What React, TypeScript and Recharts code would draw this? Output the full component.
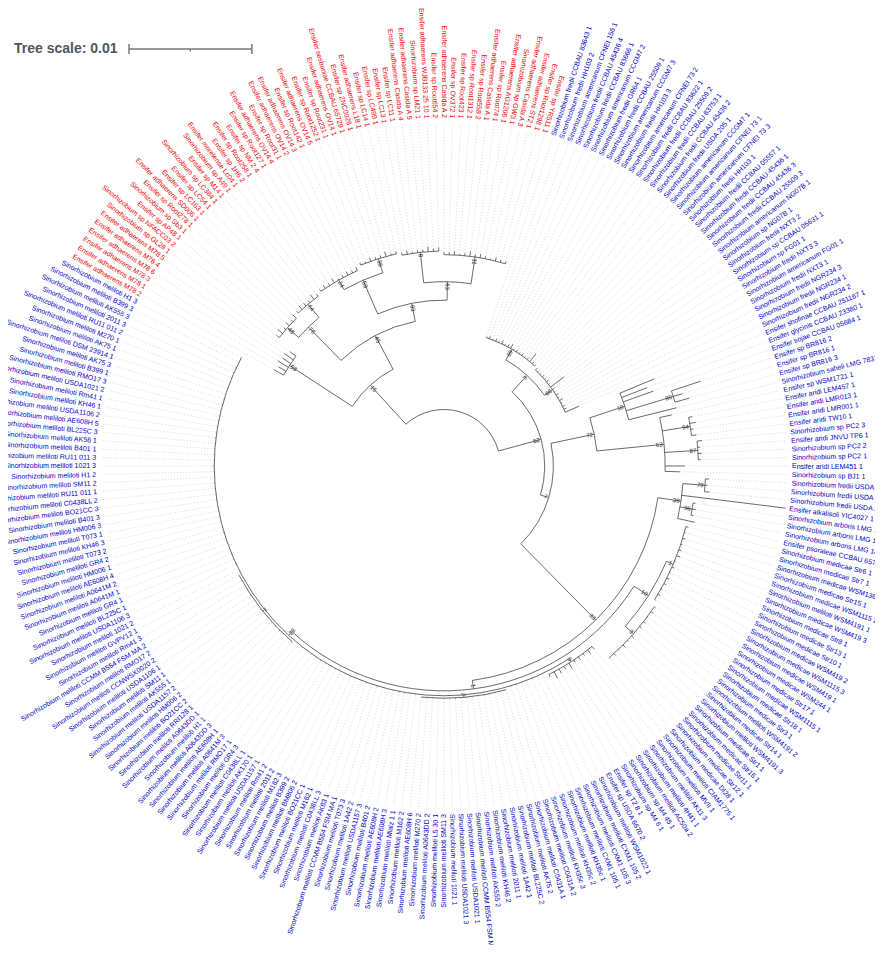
import React from 'react'
import { PieChart, Pie } from 'recharts'

// leaf labels, clockwise starting at the upper-left red clade
const redLeaves = [
  'Ensifer adhaerens M78 2', 'Ensifer adhaerens M78 1', 'Ensifer adhaerens M78 3', 'Ensifer adhaerens M78 6',
  'Ensifer adhaerens M78 4', 'Ensifer adhaerens M78 5', 'Sinorhizobium sp GL28 1', 'Sinorhizobium sp NFACC03 2',
  'Ensifer sp AP48 1', 'Sinorhizobium sp Sb3 1', 'Ensifer sp Root278 1', 'Ensifer adhaerens SD006 1',
  'Ensifer sp LC163 1', 'Ensifer sp LC54 1', 'Sinorhizobium sp LC384 1', 'Ensifer sp M14 1',
  'Sinorhizobium sp A49 1', 'Ensifer morelense Lc04 1', 'Ensifer sp 1H6 2', 'Ensifer sp Root258 1',
  'Ensifer sp NM 2 4', 'Ensifer sp Root127 1', 'Ensifer adhaerens OV14 4', 'Ensifer sp Root31 1',
  'Ensifer adhaerens OV14 2', 'Ensifer adhaerens OV14 3', 'Ensifer sp Root142 1', 'Ensifer adhaerens OV14 5',
  'Ensifer sp Root1252 1', 'Ensifer sp Root231 1', 'Ensifer adhaerens OV14 1', 'Ensifer sesbaniae CCBAU 65729 1',
  'Ensifer sp ZNC0028 1', 'Ensifer adhaerens L18 1', 'Ensifer sp LC14 1', 'Ensifer sp LC499 1',
  'Ensifer sp LC13 1', 'Ensifer sp LC11 1', 'Ensifer adhaerens Casida A 4', 'Ensifer adhaerens Casida A 5',
  'Sinorhizobium sp LM21 1', 'Ensifer adhaerens WJB133 25 10 1', 'Ensifer sp Root654 2', 'Ensifer adhaerens Casida A 2',
  'Ensifer sp OV372 1', 'Ensifer sp Root423 1', 'Ensifer sp Root1312 1', 'Ensifer sp Root558 2',
  'Ensifer adhaerens Casida A 1', 'Ensifer sp Root74 1', 'Ensifer adhaerens AG1206 1', 'Sinorhizobium sp GW3 1',
  'Ensifer adhaerens Casida A 3', 'Ensifer adhaerens ST2 1', 'Ensifer sp Root1298 1', 'Ensifer sp YR511 1',
]

const blueLeaves = [
  'Sinorhizobium fredii CCBAU 83643 1', 'Sinorhizobium fredii HH103 2', 'Sinorhizobium americanum CFNEI 156 1',
  'Sinorhizobium fredii CCBAU 45436 4', 'Sinorhizobium fredii CCBAU 83666 1', 'Sinorhizobium americanum CCGM7 2',
  'Sinorhizobium fredii GR64 1', 'Sinorhizobium fredii CCBAU 25509 1', 'Sinorhizobium americanum CCGM7 3',
  'Sinorhizobium fredii HH103 3', 'Sinorhizobium americanum CFNEI 73 2', 'Sinorhizobium fredii CCBAU 83622 1',
  'Sinorhizobium fredii CCBAU 25509 2', 'Sinorhizobium fredii CCBAU 83753 1', 'Sinorhizobium fredii CCBAU 45436 2',
  'Sinorhizobium fredii USDA 205 1', 'Sinorhizobium americanum CCGM7 1', 'Sinorhizobium americanum CFNEI 73 1',
  'Sinorhizobium americanum CFNEI 73 3', 'Sinorhizobium fredii HH103 1', 'Sinorhizobium fredii CCBAU 05557 1',
  'Sinorhizobium fredii CCBAU 45436 1', 'Sinorhizobium fredii CCBAU 45436 3', 'Sinorhizobium fredii CCBAU 25509 3',
  'Sinorhizobium americanum NG07B 1', 'Sinorhizobium sp NG07B 1', 'Sinorhizobium fredii NXT3 2',
  'Sinorhizobium sp CCBAU 05631 1', 'Sinorhizobium sp FG01 1', 'Sinorhizobium fredii NXT3 3',
  'Sinorhizobium americanum FG01 1', 'Sinorhizobium fredii NXT3 1', 'Sinorhizobium fredii NGR234 3',
  'Sinorhizobium fredii NGR234 1', 'Sinorhizobium fredii NGR234 2', 'Ensifer shofinae CCBAU 251167 1',
  'Ensifer glycinis CCBAU 23380 1', 'Ensifer sojae CCBAU 05684 1', 'Ensifer sp BR816 2',
  'Ensifer sp BR816 1', 'Ensifer sp BR816 3', 'Sinorhizobium saheli LMG 7837 1',
  'Ensifer sp WSM1721 1', 'Ensifer aridi LEM457 1', 'Ensifer aridi LMR013 1',
  'Ensifer aridi LMR001 1', 'Ensifer aridi TW10 1', 'Sinorhizobium sp PC2 3',
  'Ensifer aridi JNVU TP6 1', 'Sinorhizobium sp PC2 2', 'Sinorhizobium sp PC2 1',
  'Ensifer aridi LEM451 1', 'Sinorhizobium sp BJ1 1', 'Sinorhizobium fredii USDA 257 1',
  'Sinorhizobium fredii USDA 257 2', 'Sinorhizobium fredii USDA 257 3', 'Ensifer alkalisoli YIC4027 1',
  'Sinorhizobium arboris LMG 14919 1', 'Sinorhizobium arboris LMG 14919 2', 'Sinorhizobium arboris LMG 14919 3',
  'Ensifer psoraleae CCBAU 65732 1', 'Sinorhizobium medicae Str6 1', 'Sinorhizobium medicae Str7 1',
  'Sinorhizobium medicae WSM1369 1', 'Sinorhizobium medicae Str15 1', 'Sinorhizobium medicae WSM1115 2',
  'Sinorhizobium meliloti WSM4191 1', 'Sinorhizobium medicae WSM419 3', 'Sinorhizobium medicae Str8 1',
  'Sinorhizobium medicae Str13 1', 'Sinorhizobium medicae Str10 1', 'Sinorhizobium medicae WSM419 2',
  'Sinorhizobium medicae WSM1115 3', 'Sinorhizobium medicae WSM419 1', 'Sinorhizobium medicae WSM244 1',
  'Sinorhizobium medicae Str17 1', 'Sinorhizobium medicae WSM1115 1', 'Sinorhizobium medicae Str18 1',
  'Sinorhizobium medicae Str3 1', 'Sinorhizobium meliloti WSM4191 2', 'Sinorhizobium medicae Str14 1',
  'Sinorhizobium meliloti WSM4191 3', 'Sinorhizobium medicae Str1 1', 'Sinorhizobium medicae Str16 1',
  'Sinorhizobium medicae Str11 1', 'Sinorhizobium medicae Str12 1', 'Sinorhizobium medicae DI28 1',
  'Sinorhizobium meliloti CIAM1775 1', 'Sinorhizobium meliloti MVII 1', 'Sinorhizobium meliloti AK11 3',
  'Sinorhizobium meliloti 4H41 1', 'Sinorhizobium meliloti AC50a 2', 'Sinorhizobium sp M4 45 1',
  'Sinorhizobium sp M4 6 1', 'Ensifer sp T2 8 1', 'Ensifer sp USDA 6670 2',
  'Sinorhizobium meliloti WSM1022 1', 'Sinorhizobium meliloti CXM1 105 2', 'Sinorhizobium meliloti CXM1 105 3',
  'Sinorhizobium meliloti CXM1 105 1', 'Sinorhizobium meliloti KH35c 1', 'Sinorhizobium meliloti KH35c 2',
  'Sinorhizobium meliloti KH35c 3', 'Sinorhizobium meliloti C0431A 2', 'Sinorhizobium meliloti C0431A 1',
  'Sinorhizobium meliloti AK75 2', 'Sinorhizobium meliloti BL225C 2', 'Sinorhizobium meliloti 1A42 1',
  'Sinorhizobium meliloti 2011 1', 'Sinorhizobium meliloti KH46 2', 'Sinorhizobium meliloti AK555 2',
  'Sinorhizobium meliloti CCMM B554 FSM MA 3', 'Sinorhizobium meliloti USDA1021 1', 'Sinorhizobium meliloti USDA1021 3',
  'Sinorhizobium meliloti 1021 1', 'Sinorhizobium meliloti SM11 3', 'Sinorhizobium meliloti L5 30 1',
  'Sinorhizobium meliloti A0643DD 2', 'Sinorhizobium meliloti M270 2', 'Sinorhizobium meliloti AE608H 6',
  'Sinorhizobium meliloti M162 2', 'Sinorhizobium meliloti Mlalz 1 1', 'Sinorhizobium meliloti AE608H 3',
  'Sinorhizobium meliloti AE608H 2', 'Sinorhizobium meliloti B401 2', 'Sinorhizobium meliloti USDA1157 3',
  'Sinorhizobium meliloti 1A42 2', 'Sinorhizobium meliloti T073 3', 'Sinorhizobium meliloti CCMM B554 FSM MA 1',
  'Sinorhizobium meliloti AK83 1', 'Sinorhizobium meliloti C0438LL 3', 'Sinorhizobium meliloti M162 1',
  'Sinorhizobium meliloti BO21CC 1', 'Sinorhizobium meliloti BM806 2', 'Sinorhizobium meliloti B399 2',
  'Sinorhizobium meliloti M162 3', 'Sinorhizobium meliloti 2011 2', 'Sinorhizobium meliloti Rm41 2',
  'Sinorhizobium meliloti USDA1157 1', 'Sinorhizobium meliloti AK170 1', 'Sinorhizobium meliloti C0438LL 1',
  'Sinorhizobium meliloti GR4 3', 'Sinorhizobium meliloti RMO17 1', 'Sinorhizobium meliloti A0641M 3',
  'Sinorhizobium meliloti AE608H 1', 'Sinorhizobium meliloti A0643DD 3', 'Sinorhizobium meliloti H1 1',
  'Sinorhizobium meliloti A0643DD 1', 'Sinorhizobium meliloti RRI128 1', 'Sinorhizobium meliloti BO21CC 2',
  'Sinorhizobium meliloti HM006 2', 'Sinorhizobium meliloti USDA1157 2', 'Sinorhizobium meliloti AK555 1',
  'Sinorhizobium meliloti SM11 1', 'Sinorhizobium meliloti USDA1106 1', 'Sinorhizobium meliloti CCNWSX0020 2',
  'Sinorhizobium meliloti RMO17 2', 'Sinorhizobium meliloti CCMM B554 FSM MA 2', 'Sinorhizobium meliloti Rm41 3',
  'Sinorhizobium meliloti GVPV12 1', 'Sinorhizobium meliloti 1021 2', 'Sinorhizobium meliloti USDA1106 3',
  'Sinorhizobium meliloti BL225C 1', 'Sinorhizobium meliloti GR4 1', 'Sinorhizobium meliloti A0641M 1',
  'Sinorhizobium meliloti A0641M 2', 'Sinorhizobium meliloti AE608H 4', 'Sinorhizobium meliloti HM006 1',
  'Sinorhizobium meliloti GR4 2', 'Sinorhizobium meliloti T073 2', 'Sinorhizobium meliloti KH46 3',
  'Sinorhizobium meliloti T073 1', 'Sinorhizobium meliloti HM006 3', 'Sinorhizobium meliloti B401 3',
  'Sinorhizobium meliloti BO21CC 3', 'Sinorhizobium meliloti C0438LL 2', 'Sinorhizobium meliloti RU11 011 1',
  'Sinorhizobium meliloti SM11 2', 'Sinorhizobium meliloti H1 2', 'Sinorhizobium meliloti 1021 3',
  'Sinorhizobium meliloti RU11 011 3', 'Sinorhizobium meliloti B401 1', 'Sinorhizobium meliloti AK58 1',
  'Sinorhizobium meliloti BL225C 3', 'Sinorhizobium meliloti AE608H 5', 'Sinorhizobium meliloti USDA1106 2',
  'Sinorhizobium meliloti KH46 1', 'Sinorhizobium meliloti Rm41 1', 'Sinorhizobium meliloti USDA1021 2',
  'Sinorhizobium meliloti RMO17 3', 'Sinorhizobium meliloti B399 1', 'Sinorhizobium meliloti AK75 3',
  'Sinorhizobium meliloti DSM 23914 1', 'Sinorhizobium meliloti AK75 1', 'Sinorhizobium meliloti M270 1',
  'Sinorhizobium meliloti RU11 011 2', 'Sinorhizobium meliloti 2011 3', 'Sinorhizobium meliloti AK555 3',
  'Sinorhizobium meliloti B399 3', 'Sinorhizobium meliloti H1 3',
]

// terminal branch lengths (substitutions/site)
const redLen = [
  0.0009, 0.0007, 0.0010, 0.0008, 0.0009, 0.0006,
  0.0003, 0.0005, 0.0002, 0.0004, 0.0002, 0.0004,
  0.0002, 0.0004, 0.0003, 0.0002, 0.0005, 0.0002,
  0.0002, 0.0003, 0.0002, 0.0004, 0.0001, 0.0002, 0.0003, 0.0002, 0.0003,
  0.0002, 0.0001, 0.0003, 0.0002, 0.0002, 0.0004, 0.0001, 0.0002,
  0.0002, 0.0003, 0.0001, 0.0002, 0.0002, 0.0004, 0.0002, 0.0003,
  0.0002, 0.0002, 0.0003, 0.0001, 0.0002, 0.0004, 0.0002, 0.0003, 0.0002, 0.0001, 0.0003, 0.0002, 0.0002,
]

const blueLen = [
  0.0001, 0.0002, 0.0001, 0.0002, 0.0001, 0.0003, 0.0001, 0.0002, 0.0004, 0.0001, 0.0002, 0.0001, 0.0002, 0.0001, 0.0002, 0.0008, 0.0002, 0.0001,
  0.0002, 0.0001, 0.0001, 0.0002, 0.0001, 0.0002, 0.0001, 0.0014, 0.0002, 0.0001, 0.0002, 0.0001, 0.0003, 0.0001, 0.0002, 0.0002, 0.0012,
  0.0030, 0.0022, 0.0026,
  0.0025, 0.0008, 0.0012,
  0.0040,
  0.0010,
  0.0003, 0.0005, 0.0002, 0.0004,
  0.0004, 0.0002, 0.0003, 0.0002,
  0.0016, 0.0012,
  0.0003, 0.0002, 0.0004,
  0.0085,
  0.0002, 0.0003, 0.0002,
  0.0014,
  0.0002, 0.0001, 0.0002, 0.0001, 0.0002, 0.0003, 0.0001, 0.0002, 0.0001, 0.0002, 0.0002, 0.0001, 0.0002, 0.0001,
  0.0001, 0.0002, 0.0001, 0.0002, 0.0002, 0.0001, 0.0002, 0.0001, 0.0003, 0.0001, 0.0002, 0.0001,
  0.0003, 0.0004, 0.0002, 0.0003, 0.0002, 0.0005, 0.0003, 0.0004, 0.0006, 0.0002,
  0.00005, 0.00003, 0.00006, 0.00004, 0.00003, 0.00005, 0.00006, 0.00003, 0.00004, 0.00005,
  0.00003, 0.00006, 0.00004, 0.00003, 0.00005, 0.00003, 0.00006, 0.00004, 0.00005, 0.00003,
  0.00004, 0.00006, 0.00003, 0.00005, 0.00003, 0.00004, 0.00008, 0.00005, 0.00003, 0.00004,
  0.00006, 0.00003, 0.00004, 0.00005, 0.00003, 0.00006, 0.00004, 0.00003, 0.00005, 0.00003,
  0.00004, 0.00006, 0.00005, 0.00003, 0.00004, 0.00005, 0.00003, 0.00006, 0.00003, 0.00004,
  0.00005, 0.00003, 0.00004, 0.00006, 0.00003, 0.00005, 0.00004, 0.00003, 0.00006, 0.00004,
  0.00003, 0.00005, 0.00004, 0.00003, 0.00006, 0.00004, 0.00003, 0.00005, 0.00003, 0.00004,
  0.00006, 0.00004, 0.00003, 0.00005, 0.00004, 0.00003, 0.00006, 0.00003, 0.00004, 0.00005,
  0.00003, 0.00004, 0.00006, 0.00003, 0.00005, 0.00004, 0.00003, 0.00006, 0.00004, 0.00003,
  0.00005, 0.00004, 0.00003, 0.00006, 0.00004, 0.00003, 0.00005, 0.00003, 0.00004, 0.00006,
  0.00004, 0.00003, 0.00005,
]

// clades: [first leaf, last leaf, node depth from root, bootstrap]
const clades: [number, number, number, string][] = [
  [0, 255, 0.0046, ''],
  [0, 55, 0.0089, '15'],
  [0, 5, 0.0150, '58'],
  [6, 55, 0.0120, '45'],
  [6, 17, 0.0158, '76'],
  [6, 11, 0.0170, '48'],
  [12, 17, 0.0172, '64'],
  [18, 55, 0.0135, '93'],
  [18, 34, 0.0165, '59'],
  [18, 26, 0.0174, '24'],
  [27, 34, 0.0177, '36'],
  [35, 55, 0.0150, '63'],
  [35, 42, 0.0175, '8'],
  [43, 55, 0.0172, '11'],
  [56, 255, 0.0082, '62'],
  [56, 90, 0.0100, '3'],
  [56, 73, 0.0110, '69'],
  [74, 90, 0.0108, '66'],
  [91, 255, 0.0089, '7'],
  [91, 108, 0.0125, '72'],
  [91, 97, 0.0155, '18'],
  [94, 96, 0.0195, '80'],
  [98, 108, 0.0180, '63'],
  [99, 102, 0.0203, '94'],
  [103, 106, 0.0207, '87'],
  [109, 255, 0.0176, '33'],
  [109, 116, 0.0195, '38'],
  [109, 111, 0.0213, '79'],
  [113, 115, 0.0205, '96'],
  [117, 255, 0.0183, '1'],
  [117, 142, 0.0197, '10'],
  [117, 130, 0.0203, '1'],
  [131, 142, 0.0206, '3'],
  [143, 255, 0.0187, '28'],
  [143, 152, 0.0190, '5'],
  [160, 175, 0.0189, '2'],
  [200, 215, 0.0189, '1'],
]

const TREE_SCALE = 0.01
const RING_DEPTH = 0.028

const CX = 444
const CY = 466
const RING = 344
const START = 151.17
const RED = '#f00000'
const BLUE = '#0000c8'
const LINE = '#444'
const FONT = 'Arial, "Liberation Sans", sans-serif'

const RAD = Math.PI / 180
const pt = (cx: number, cy: number, r: number, a: number) => [cx + r * Math.cos(-a * RAD), cy + r * Math.sin(-a * RAD)]

const leaves = [
  ...redLeaves.map((name, i) => ({ name, len: redLen[i], red: true })),
  ...blueLeaves.map((name, i) => ({ name, len: blueLen[i], red: false })),
]
const N = leaves.length

// tree layout: parent of each clade / leaf, node positions in leaf units
const nodes = clades
  .map(([from, to, depth, support]) => ({ from, to, depth, support, parentDepth: 0, p1: 0, p2: 0, pm: 0 }))
  .sort((a, b) => (a.to - a.from) - (b.to - b.from))

const containerOf = (from: number, to: number, size: number) => {
  for (const n of nodes) {
    if (n.from <= from && n.to >= to && n.to - n.from > size) return n
  }
  return null
}

const leafParent = leaves.map((_, k) => containerOf(k, k, -1))

nodes.forEach((n) => {
  const parent = containerOf(n.from, n.to, n.to - n.from)
  n.parentDepth = parent ? parent.depth : n.depth
})

nodes.forEach((n) => {
  const pos: number[] = []
  nodes.forEach((c) => {
    if (c !== n && containerOf(c.from, c.to, c.to - c.from) === n) pos.push(c.pm)
  })
  leafParent.forEach((p, k) => { if (p === n) pos.push(k + 0.5) })
  n.p1 = Math.min(...pos)
  n.p2 = Math.max(...pos)
  n.pm = (n.p1 + n.p2) / 2
})

const leafData = leaves.map((l, k) => {
  const base = leafParent[k] ? leafParent[k]!.depth : 0
  return { name: l.name, value: 1, red: l.red, base, tip: base + l.len }
})

const isFlipped = (a: number) => {
  const sa = ((-a % 360) + 360) % 360
  return sa > 89.3 && sa < 287.6
}

function LeafMark(props: any) {
  const { cx, cy, midAngle, outerRadius } = props
  const d = props.payload && props.payload.tip !== undefined ? props.payload : props
  const k = outerRadius / RING_DEPTH
  const [x0, y0] = pt(cx, cy, d.base * k, midAngle)
  const [x1, y1] = pt(cx, cy, d.tip * k, midAngle)
  const [x2, y2] = pt(cx, cy, outerRadius, midAngle)
  const [tx, ty] = pt(cx, cy, outerRadius + 4, midAngle)
  const flip = isFlipped(midAngle)
  const rot = flip ? 180 - midAngle : -midAngle
  return (
    <g>
      <line x1={x0} y1={y0} x2={x1} y2={y1} stroke={LINE} strokeWidth={0.8} />
      <line x1={x1} y1={y1} x2={x2} y2={y2} stroke="#c8c8c8" strokeWidth={0.7} strokeDasharray="1 2" />
      <text x={tx} y={ty} transform={`rotate(${rot} ${tx} ${ty})`} textAnchor={flip ? 'end' : 'start'}
        dominantBaseline="central" fontSize={7} fontFamily={FONT} fill={d.red ? RED : BLUE}>
        {d.name}
      </text>
    </g>
  )
}

function NodeMark(props: any) {
  if (props.index !== 1) return null
  const { cx, cy, midAngle, startAngle, endAngle, outerRadius } = props
  const n = props.payload && props.payload.node ? props.payload.node : props.node
  const k = outerRadius / RING_DEPTH
  const r = n.depth * k
  const [sx, sy] = pt(cx, cy, r, startAngle)
  const [ex, ey] = pt(cx, cy, r, endAngle)
  const [px, py] = pt(cx, cy, n.parentDepth * k, midAngle)
  const [mx, my] = pt(cx, cy, r, midAngle)
  const large = Math.abs(startAngle - endAngle) > 180 ? 1 : 0
  const [lx, ly] = pt(cx, cy, r - 1.5, midAngle)
  const flip = isFlipped(midAngle)
  const rot = flip ? 180 - midAngle : -midAngle
  return (
    <g>
      <path d={`M${sx},${sy}A${r},${r} 0 ${large} 1 ${ex},${ey}`} fill="none" stroke={LINE} strokeWidth={0.8} />
      {n.parentDepth < n.depth && <line x1={px} y1={py} x2={mx} y2={my} stroke={LINE} strokeWidth={0.8} />}
      {n.support && (
        <text x={lx} y={ly} transform={`rotate(${rot} ${lx} ${ly})`} textAnchor={flip ? 'start' : 'end'}
          dominantBaseline="central" fontSize={6} fontFamily={FONT} fill="#222">
          {n.support}
        </text>
      )}
    </g>
  )
}

export default function App() {
  const barLen = TREE_SCALE * RING / RING_DEPTH
  return (
    <div style={{ position: 'relative', width: 883, height: 953, margin: -8, background: '#fff' }}>
      <PieChart width={883} height={953} margin={{ top: 0, right: 0, bottom: 0, left: 0 }}>
        {nodes.map((n, i) => (
          <Pie
            key={`clade-${i}`}
            data={[{ value: n.p1, node: n }, { value: n.p2 - n.p1, node: n }, { value: N - n.p2, node: n }]}
            dataKey="value"
            cx={CX}
            cy={CY}
            innerRadius={0}
            outerRadius={RING}
            startAngle={START}
            endAngle={START - 360}
            fill="none"
            stroke="none"
            labelLine={false}
            label={NodeMark}
            isAnimationActive={false}
          />
        ))}
        <Pie
          data={leafData}
          dataKey="value"
          cx={CX}
          cy={CY}
          innerRadius={0}
          outerRadius={RING}
          startAngle={START}
          endAngle={START - 360}
          fill="none"
          stroke="none"
          labelLine={false}
          label={LeafMark}
          isAnimationActive={false}
        />
      </PieChart>
      <div style={{ position: 'absolute', left: 14, top: 40, fontFamily: FONT, fontSize: 14, fontWeight: 'bold', color: '#555', lineHeight: '16px' }}>
        Tree scale: {TREE_SCALE}
      </div>
      <svg style={{ position: 'absolute', left: 125, top: 41 }} width={barLen + 10} height={16}>
        <line x1={4} y1={8} x2={4 + barLen} y2={8} stroke="#777" strokeWidth={1.5} />
        <line x1={4} y1={3} x2={4} y2={13} stroke="#777" strokeWidth={1.5} />
        <line x1={4 + barLen} y1={3} x2={4 + barLen} y2={13} stroke="#777" strokeWidth={1.5} />
        <line x1={4 + barLen / 2} y1={8} x2={4 + barLen / 2} y2={10.5} stroke="#777" strokeWidth={1.2} />
      </svg>
    </div>
  )
}
